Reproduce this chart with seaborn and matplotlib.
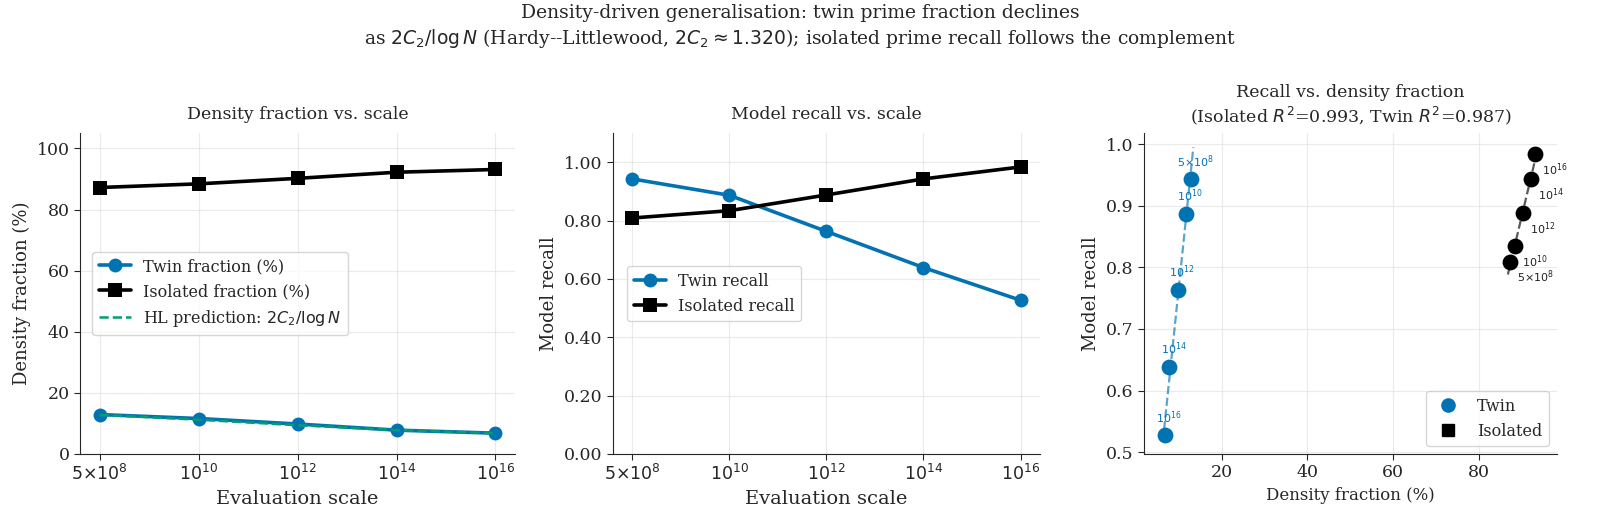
import numpy as np
import pandas as pd
import matplotlib
matplotlib.use("Agg")
import matplotlib.pyplot as plt
import seaborn as sns
from matplotlib.lines import Line2D

# ---------------- data ----------------
scale_labels = [r"$5{\times}10^{8}$", r"$10^{10}$", r"$10^{12}$", r"$10^{14}$", r"$10^{16}$"]
twin_fraction = [12.9, 11.6, 9.8, 7.8, 6.8]
isolated_fraction = [87.2, 88.4, 90.2, 92.2, 93.1]
hl_prediction = [12.8, 11.2, 9.4, 7.8, 6.8]
twin_recall = [0.943, 0.887, 0.763, 0.639, 0.527]
isolated_recall = [0.809, 0.834, 0.888, 0.943, 0.984]

BLUE = "#0173b2"
GREEN = "#029e73"
BLACK = "#000000"

sns.set_style("ticks")
plt.rcParams["font.family"] = ["DejaVu Serif"]
plt.rcParams["mathtext.fontset"] = "dejavusans"

fig = plt.figure(figsize=(16, 5.2), dpi=100)
ax1 = fig.add_axes([0.050, 0.127, 0.272, 0.617])
ax2 = fig.add_axes([0.383, 0.127, 0.267, 0.617])
ax3 = fig.add_axes([0.715, 0.127, 0.258, 0.617])

idx = np.arange(len(scale_labels))
df = pd.DataFrame({"idx": idx, "twin_f": twin_fraction, "iso_f": isolated_fraction,
                   "hl": hl_prediction, "twin_r": twin_recall, "iso_r": isolated_recall})

line_kw = dict(linewidth=2.6, markersize=10, markeredgewidth=0)

# ---------------- panel 1 ----------------
sns.lineplot(data=df, x="idx", y="twin_f", ax=ax1, color=BLUE, marker="o",
             label="Twin fraction (%)", markeredgecolor=BLUE, **line_kw)
sns.lineplot(data=df, x="idx", y="iso_f", ax=ax1, color=BLACK, marker="s",
             label="Isolated fraction (%)", markeredgecolor=BLACK, **line_kw)
sns.lineplot(data=df, x="idx", y="hl", ax=ax1, color=GREEN, linestyle="--",
             linewidth=1.8, label=r"HL prediction: $2C_2/\log N$")
ax1.set_ylim(0, 105)
ax1.set_xlim(-0.2, 4.2)
ax1.set_xticks(idx)
ax1.set_xticklabels(scale_labels)
ax1.set_xlabel("Evaluation scale", fontsize=14)
ax1.set_ylabel("Density fraction (%)", fontsize=13)
ax1.set_title("Density fraction vs. scale", fontsize=12.5, pad=10)
ax1.legend(loc="center left", fontsize=11.5, bbox_to_anchor=(0.01, 0.5))

# ---------------- panel 2 ----------------
sns.lineplot(data=df, x="idx", y="twin_r", ax=ax2, color=BLUE, marker="o",
             label="Twin recall", markeredgecolor=BLUE, **line_kw)
sns.lineplot(data=df, x="idx", y="iso_r", ax=ax2, color=BLACK, marker="s",
             label="Isolated recall", markeredgecolor=BLACK, **line_kw)
ax2.set_ylim(0, 1.1)
ax2.set_xlim(-0.2, 4.2)
ax2.set_xticks(idx)
ax2.set_xticklabels(scale_labels)
ax2.set_yticks([0, 0.2, 0.4, 0.6, 0.8, 1.0])
ax2.set_yticklabels([f"{v:.2f}" for v in [0, 0.2, 0.4, 0.6, 0.8, 1.0]])
ax2.set_xlabel("Evaluation scale", fontsize=14)
ax2.set_ylabel("Model recall", fontsize=13)
ax2.set_title("Model recall vs. scale", fontsize=12.5, pad=10)
ax2.legend(loc="center left", fontsize=11.5, bbox_to_anchor=(0.015, 0.5))

# ---------------- panel 3 ----------------
for xs, ys, col in [(twin_fraction, twin_recall, BLUE), (isolated_fraction, isolated_recall, BLACK)]:
    k, b = np.polyfit(xs, ys, 1)
    xx = np.linspace(min(xs) - 0.5, max(xs) + 0.5, 50)
    sns.lineplot(x=xx, y=k * xx + b, ax=ax3, color=col, linestyle="--",
                 linewidth=1.6, alpha=0.65)
sns.scatterplot(x=twin_fraction, y=twin_recall, ax=ax3, color=BLUE, s=130,
                linewidth=0, zorder=3)
sns.scatterplot(x=isolated_fraction, y=isolated_recall, ax=ax3, color=BLACK, s=130,
                linewidth=0, zorder=3)
for lab, xv, yv in zip(scale_labels, twin_fraction, twin_recall):
    ax3.annotate(lab, (xv, yv), xytext=(3, 7), textcoords="offset points",
                 ha="center", va="bottom", fontsize=8, color=BLUE)
for lab, xv, yv in zip(scale_labels, isolated_fraction, isolated_recall):
    ax3.annotate(lab, (xv, yv), xytext=(5, -5), textcoords="offset points",
                 ha="left", va="top", fontsize=8, color="#222222")
ax3.set_xlim(1.9, 98.1)
ax3.set_ylim(0.497, 1.018)
ax3.set_xticks([20, 40, 60, 80])
ax3.set_xlabel("Density fraction (%)", fontsize=12)
ax3.set_ylabel("Model recall", fontsize=13)
ax3.set_title("Recall vs. density fraction\n(Isolated $R^2$=0.993, Twin $R^2$=0.987)",
              fontsize=12.5, pad=8)
handles = [Line2D([], [], marker="o", color=BLUE, linestyle="none", markersize=9.5),
           Line2D([], [], marker="s", color=BLACK, linestyle="none", markersize=8.5)]
ax3.legend(handles, ["Twin", "Isolated"], loc="lower right", fontsize=11.5)

for ax in (ax1, ax2, ax3):
    ax.grid(True, color="#dddddd", linewidth=0.8, alpha=0.6)
    ax.tick_params(labelsize=12.5, length=4)
    sns.despine(ax=ax)
    ax.set_axisbelow(True)

fig.suptitle("Density-driven generalisation: twin prime fraction declines\n"
             r"as $2C_2/\log N$ (Hardy--Littlewood, $2C_2\approx1.320$); isolated prime recall follows the complement",
             fontsize=13.5, y=0.993, linespacing=1.3)

fig.savefig("out.png", dpi=100)
